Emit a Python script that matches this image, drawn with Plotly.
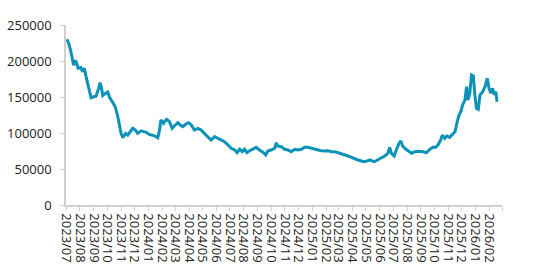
import plotly.graph_objects as go

dates = [
    "2023-07-03", "2023-07-07", "2023-07-12", "2023-07-16", "2023-07-18", "2023-07-22", "2023-07-25", "2023-07-28",
    "2023-08-03", "2023-08-07", "2023-08-11", "2023-08-15", "2023-08-18", "2023-08-22", "2023-08-26", "2023-08-30",
    "2023-09-06", "2023-09-12", "2023-09-15", "2023-09-18", "2023-09-21", "2023-09-27", "2023-10-02", "2023-10-06",
    "2023-10-13", "2023-10-19", "2023-10-24", "2023-10-28", "2023-11-01", "2023-11-05", "2023-11-11", "2023-11-16",
    "2023-11-21", "2023-11-27", "2023-12-03", "2023-12-08", "2023-12-16", "2023-12-27", "2024-01-03", "2024-01-15",
    "2024-01-22", "2024-01-26", "2024-01-29", "2024-02-04", "2024-02-06", "2024-02-11", "2024-02-17", "2024-02-23",
    "2024-02-28", "2024-03-07", "2024-03-12", "2024-03-18", "2024-03-25", "2024-03-31", "2024-04-06", "2024-04-13",
    "2024-04-20", "2024-04-28", "2024-05-05", "2024-05-13", "2024-05-20", "2024-05-28", "2024-06-04", "2024-06-12",
    "2024-06-19", "2024-06-27", "2024-07-04", "2024-07-12", "2024-07-17", "2024-07-23", "2024-07-29", "2024-08-03",
    "2024-08-08", "2024-08-14", "2024-08-21", "2024-08-29", "2024-09-05", "2024-09-13", "2024-09-19", "2024-09-24",
    "2024-10-01", "2024-10-09", "2024-10-13", "2024-10-16", "2024-10-24", "2024-10-31", "2024-11-08", "2024-11-15",
    "2024-11-23", "2024-11-30", "2024-12-08", "2024-12-15", "2024-12-22", "2024-12-30", "2025-01-06", "2025-01-14",
    "2025-01-21", "2025-01-29", "2025-02-05", "2025-02-13", "2025-02-20", "2025-02-28", "2025-03-07", "2025-03-15",
    "2025-03-22", "2025-03-30", "2025-04-06", "2025-04-13", "2025-04-21", "2025-04-28", "2025-05-06", "2025-05-09",
    "2025-05-20", "2025-05-28", "2025-06-05", "2025-06-12", "2025-06-19", "2025-06-23", "2025-06-27", "2025-07-03",
    "2025-07-08", "2025-07-14", "2025-07-18", "2025-07-22", "2025-07-27", "2025-08-03", "2025-08-11", "2025-08-18",
    "2025-08-26", "2025-09-06", "2025-09-13", "2025-09-21", "2025-09-28", "2025-10-04", "2025-10-09", "2025-10-15",
    "2025-10-19", "2025-10-24", "2025-10-29", "2025-11-04", "2025-11-10", "2025-11-16", "2025-11-21", "2025-11-25",
    "2025-11-29", "2025-12-03", "2025-12-08", "2025-12-12", "2025-12-15", "2025-12-19", "2025-12-23", "2025-12-27",
    "2025-12-30", "2026-01-03", "2026-01-07", "2026-01-11", "2026-01-17", "2026-01-22", "2026-01-27", "2026-01-31",
    "2026-02-04", "2026-02-08", "2026-02-12", "2026-02-15", "2026-02-18",
]

values = [
    230000, 224500, 213000, 197000, 194000, 201000, 197000, 190000,
    191000, 185000, 190000, 178000, 169000, 160000, 149000, 150000,
    151000, 162000, 170000, 164000, 152000, 155000, 157000, 150000,
    143500, 136500, 125000, 111000, 99500, 93500, 99500, 97000,
    101000, 106500, 104000, 99500, 103000, 101000, 98000, 96000,
    93500, 104000, 118000, 113500, 115700, 119000, 115700, 106500,
    109700, 114300, 111000, 108800, 112500, 114300, 111000, 104200,
    106500, 104200, 99500, 95000, 90300, 95000, 92600, 89300,
    88000, 83300, 78700, 76400, 72700, 77400, 74000, 77400,
    72700, 75400, 77400, 80100, 76400, 73500, 69400, 75000,
    76400, 78700, 86500, 81900, 81000, 77400, 76400, 74000,
    77400, 76400, 77400, 80100, 80100, 78700, 77400, 76400,
    75400, 75000, 75400, 74000, 74000, 72600, 70800, 69400,
    68000, 66200, 63900, 62500, 61100, 60100, 61500, 62500,
    60100, 62500, 64800, 68000, 71800, 80100, 71800, 68000,
    76400, 85700, 88900, 81900, 78700, 75400, 71800, 74000,
    74500, 74000, 72600, 77400, 80100, 80100, 83300, 90300,
    97200, 92600, 95800, 94000, 98600, 101800, 115700, 125000,
    129600, 138900, 145800, 164300, 145800, 155100, 180600, 179200,
    155100, 134300, 132900, 152800, 157400, 164300, 176000, 162000,
    155100, 162000, 152800, 157400, 143500,
]

tick_vals = [
    "2023-07-01", "2023-08-01", "2023-09-01", "2023-10-01", "2023-11-01", "2023-12-01",
    "2024-01-01", "2024-02-01", "2024-03-01", "2024-04-01", "2024-05-01", "2024-06-01",
    "2024-07-01", "2024-08-01", "2024-09-01", "2024-10-01", "2024-11-01", "2024-12-01",
    "2025-01-01", "2025-02-01", "2025-03-01", "2025-04-01", "2025-05-01", "2025-06-01",
    "2025-07-01", "2025-08-01", "2025-09-01", "2025-10-01", "2025-11-01", "2025-12-01",
    "2026-01-01", "2026-02-01", "2026-03-01",
]
tick_text = [
    "2023/07", "2023/08", "2023/09", "2023/10", "2023/11", "2023/12",
    "2024/01", "2024/02", "2024/03", "2024/04", "2024/05", "2024/06",
    "2024/07", "2024/08", "2024/09", "2024/10", "2024/11", "2024/12",
    "2025/01", "2025/02", "2025/03", "2025/04", "2025/05", "2025/06",
    "2025/07", "2025/08", "2025/09", "2025/10", "2025/11", "2025/12",
    "2026/01", "2026/02", "",
]

y_ticks = [0, 50000, 100000, 150000, 200000, 250000]

fig = go.Figure()
fig.add_trace(go.Scatter(
    x=dates, y=values, mode="lines",
    line=dict(color="#0b92b8", width=3),
    hoverinfo="skip",
))

fig.update_layout(
    width=550, height=267,
    margin=dict(l=66, r=48, t=25, b=62),
    paper_bgcolor="white", plot_bgcolor="white",
    showlegend=False,
    font=dict(family="Open Sans", size=13, color="#222222"),
)
fig.update_xaxes(
    type="date",
    range=["2023-07-01", "2026-03-01"],
    tickvals=tick_vals, ticktext=tick_text,
    tickangle=90,
    ticks="outside", ticklen=4, tickcolor="#d0d0d0", tickwidth=1,
    showline=True, linecolor="#d0d0d0", linewidth=1.5,
    showgrid=False, zeroline=False,
    tickfont=dict(size=13, color="#222222"),
    automargin=False,
)
fig.update_yaxes(
    range=[0, 250000],
    tickvals=y_ticks,
    ticktext=[str(v) for v in y_ticks],
    ticks="outside", ticklen=4, tickcolor="#d0d0d0", tickwidth=1,
    showline=True, linecolor="#d0d0d0", linewidth=1.5,
    showgrid=False, zeroline=False,
    tickfont=dict(size=13, color="#222222"),
    ticklabelstandoff=6,
    automargin=False,
)

fig.write_html("out.html")
